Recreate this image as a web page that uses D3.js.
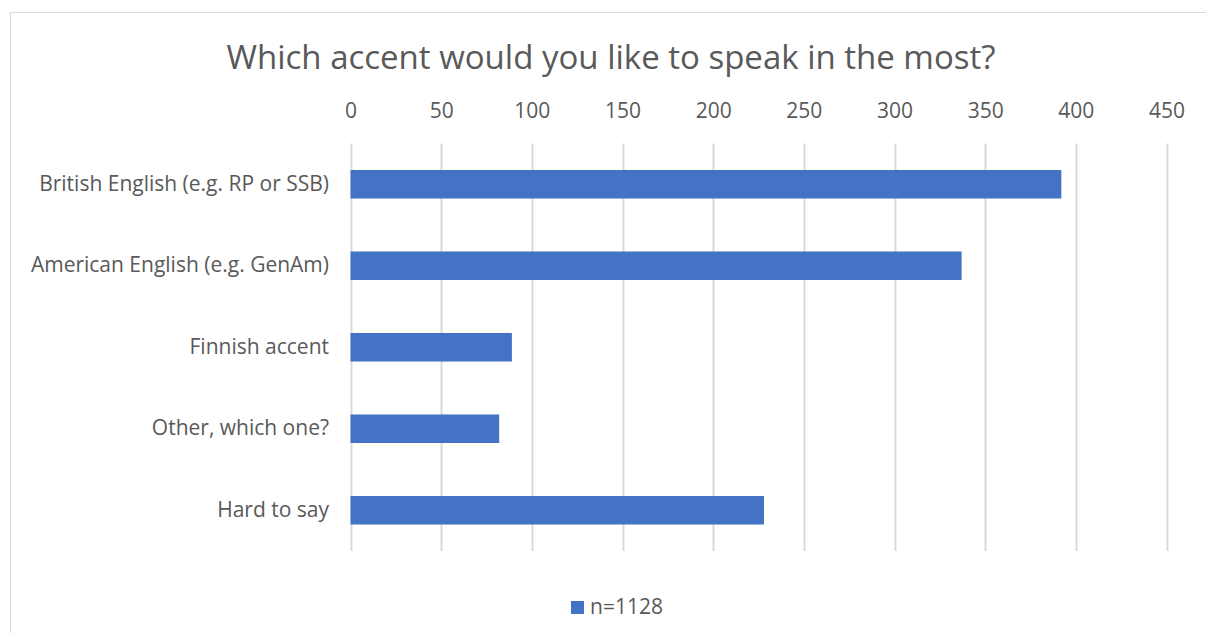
<!DOCTYPE html>
<html>
<head>
<meta charset="utf-8">
<script src="https://cdn.jsdelivr.net/npm/d3@7"></script>
<style>
  html, body { margin: 0; padding: 0; background: #fff; }
  svg { display: block; }
  text { font-family: "Open Sans", "Liberation Sans", sans-serif; fill: #595959; }
</style>
</head>
<body>
<svg id="chart" width="1206" height="633"></svg>
<script>
// Survey answers: preferred accent
const categories = [
  "British English (e.g. RP or SSB)",
  "American English (e.g. GenAm)",
  "Finnish accent",
  "Other, which one?",
  "Hard to say"
];
const counts = [392, 337, 89, 82, 228];
const tickValues = [0, 50, 100, 150, 200, 250, 300, 350, 400, 450];
const seriesName = "n=1128";
const title = "Which accent would you like to speak in the most?";

const svg = d3.select("#chart");

// outer frame
svg.append("rect")
  .attr("x", 10.5).attr("y", 12.5)
  .attr("width", 1220).attr("height", 640)
  .attr("fill", "#fff").attr("stroke", "#d9d9d9").attr("stroke-width", 1);

const plot = { left: 350.5, right: 1166.5, top: 143.5, bottom: 551 };

const x = d3.scaleLinear().domain([0, 450]).range([plot.left, plot.right]);
const y = d3.scaleBand().domain(categories)
  .range([plot.top, plot.bottom])
  .paddingInner(0.65).paddingOuter(0.325);

// vertical gridlines
svg.append("g").selectAll("line").data(tickValues).join("line")
  .attr("x1", d => Math.round(x(d)) + 0.5).attr("x2", d => Math.round(x(d)) + 0.5)
  .attr("y1", plot.top).attr("y2", plot.bottom)
  .attr("stroke", "#d9d9d9").attr("stroke-width", 2);

// top axis labels
const xAxis = d3.axisTop(x).tickValues(tickValues).tickSize(0).tickPadding(0);
const gx = svg.append("g").attr("transform", "translate(0,118)").call(xAxis);
gx.select(".domain").remove();
gx.selectAll("text").style("font-size", "21px").attr("fill", "#595959")
  .style("font-family", '"Open Sans", sans-serif');

// category axis
const yAxis = d3.axisLeft(y).tickSize(0).tickPadding(0);
const gy = svg.append("g").attr("transform", "translate(329,0)").call(yAxis);
gy.select(".domain").remove();
gy.selectAll("text").style("font-size", "21px").attr("fill", "#595959")
  .style("font-family", '"Open Sans", sans-serif');

// bars
svg.append("g").selectAll("rect").data(categories).join("rect")
  .attr("x", x(0))
  .attr("y", d => y(d))
  .attr("width", (d, i) => x(counts[i]) - x(0))
  .attr("height", y.bandwidth())
  .attr("fill", "#4472c4");

// title
svg.append("text")
  .attr("x", 611).attr("y", 69)
  .attr("text-anchor", "middle")
  .style("font-size", "33px")
  .text(title);

// legend
const lg = svg.append("g");
lg.append("rect").attr("x", 571).attr("y", 601).attr("width", 13).attr("height", 13).attr("fill", "#4472c4");
lg.append("text").attr("x", 590).attr("y", 614).style("font-size", "21px").text(seriesName);
</script>
</body>
</html>
